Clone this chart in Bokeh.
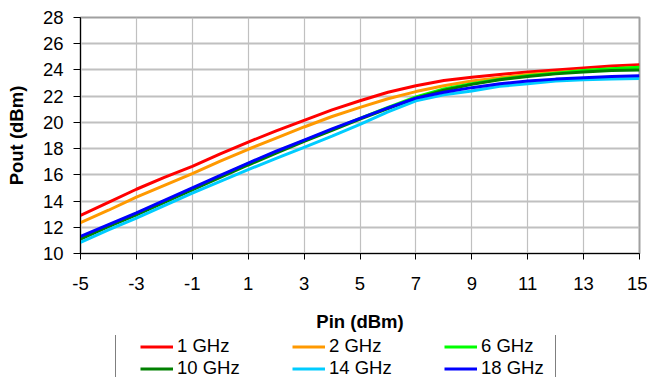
from bokeh.plotting import figure
from bokeh.models import Range1d, FixedTicker, Legend, LegendItem
from bokeh.layouts import column
from bokeh.embed import file_html
from bokeh.resources import INLINE

pin = [-5, -4, -3, -2, -1, 0, 1, 2, 3, 4, 5, 6, 7, 8, 9, 10, 11, 12, 13, 14, 15]
pout_1ghz = [12.9, 13.9, 14.9, 15.8, 16.65, 17.6, 18.5, 19.35, 20.15, 20.95, 21.65, 22.3, 22.8, 23.2, 23.45, 23.65, 23.85, 24.0, 24.15, 24.3, 24.4]
pout_2ghz = [12.35, 13.3, 14.3, 15.2, 16.1, 17.05, 17.95, 18.8, 19.65, 20.45, 21.15, 21.8, 22.35, 22.8, 23.15, 23.4, 23.65, 23.8, 23.95, 24.1, 24.2]
pout_6ghz = [11.2, 12.15, 13.05, 14.0, 14.95, 15.9, 16.85, 17.75, 18.6, 19.45, 20.3, 21.15, 21.95, 22.55, 22.95, 23.3, 23.55, 23.75, 23.95, 24.1, 24.2]
pout_10ghz = [11.1, 12.05, 12.95, 13.9, 14.85, 15.8, 16.75, 17.65, 18.55, 19.4, 20.25, 21.05, 21.85, 22.45, 22.9, 23.25, 23.5, 23.7, 23.85, 23.95, 24.0]
pout_14ghz = [10.85, 11.8, 12.7, 13.65, 14.6, 15.5, 16.4, 17.25, 18.1, 18.95, 19.85, 20.8, 21.65, 22.1, 22.4, 22.75, 22.95, 23.15, 23.25, 23.3, 23.35]
pout_18ghz = [11.3, 12.2, 13.1, 14.05, 15.0, 15.95, 16.9, 17.8, 18.65, 19.5, 20.3, 21.1, 21.85, 22.3, 22.65, 22.95, 23.15, 23.3, 23.4, 23.5, 23.55]

series_names = ["1 GHz", "2 GHz", "6 GHz", "10 GHz", "14 GHz", "18 GHz"]
series_values = [pout_1ghz, pout_2ghz, pout_6ghz, pout_10ghz, pout_14ghz, pout_18ghz]
series_colors = ["#ff0000", "#ff9900", "#00ff00", "#008000", "#00ccff", "#0000ff"]

x_ticks = [-5, -3, -1, 1, 3, 5, 7, 9, 11, 13, 15]
x_tick_labels = ["-5", "-3", "-1", "1", "3", "5", "7", "9", "11", "13", "15"]
y_ticks = [10, 12, 14, 16, 18, 20, 22, 24, 26, 28]

FONT = "Liberation Sans"
FS = "18.5px"
NAN = float("nan")

p = figure(width=647, height=335, output_backend="svg", toolbar_location=None,
           x_range=Range1d(-5, 15), y_range=Range1d(10, 28),
           min_border_left=80, min_border_right=8, min_border_top=17, min_border_bottom=82)

p.outline_line_color = "#a0a0a0"
p.outline_line_width = 2

p.xaxis.ticker = FixedTicker(ticks=x_ticks)
p.yaxis.ticker = FixedTicker(ticks=y_ticks)
p.xaxis.major_label_overrides = {t: s for t, s in zip(x_ticks, x_tick_labels)}
p.xgrid.ticker = FixedTicker(ticks=x_ticks)
p.ygrid.ticker = FixedTicker(ticks=y_ticks)
p.xgrid.grid_line_color = "#c0c0c0"
p.ygrid.grid_line_color = "#c0c0c0"
p.xgrid.grid_line_width = 1.2
p.ygrid.grid_line_width = 1.8

for ax in (p.xaxis[0], p.yaxis[0]):
    ax.axis_line_color = "black"
    ax.axis_line_width = 1
    ax.major_tick_line_color = "black"
    ax.minor_tick_line_color = None
    ax.major_tick_in = 0
    ax.major_label_text_font = FONT
    ax.major_label_text_font_size = FS
    ax.major_label_text_color = "black"
    ax.axis_label_text_font = FONT
    ax.axis_label_text_font_size = FS
    ax.axis_label_text_font_style = "bold"
    ax.axis_label_text_color = "black"

p.xaxis.major_tick_out = 6
p.yaxis.major_tick_out = 7
p.xaxis.major_label_standoff = 17
p.yaxis.major_label_standoff = 10
p.xaxis.axis_label = "Pin (dBm)"
p.yaxis.axis_label = "Pout (dBm)"
p.xaxis.axis_label_standoff = 18
p.yaxis.axis_label_standoff = 13

for name, vals, col in zip(series_names, series_values, series_colors):
    p.line(pin, vals, line_color=col, line_width=3)

# legend strip below the chart (its frame is aligned with the chart frame, left = 80)
lf = figure(width=647, height=42, output_backend="svg", toolbar_location=None,
            x_range=Range1d(0, 1), y_range=Range1d(0, 1),
            x_axis_location=None, y_axis_location=None,
            min_border_left=0, min_border_right=0, min_border_top=0, min_border_bottom=0)
lf.grid.visible = False
lf.outline_line_color = None
swatches = [lf.line(x=[NAN, NAN], y=[NAN, NAN], line_color=col, line_width=3) for col in series_colors]
frame_proxy = lf.line(x=[NAN, NAN], y=[NAN, NAN], line_alpha=0)

# border box of the legend
box = Legend(items=[LegendItem(label=" ", renderers=[frame_proxy])],
             location=(35, -19), margin=0, padding=0,
             glyph_width=0, glyph_height=60, label_standoff=0, label_width=439, label_height=60,
             label_text_font_size="1px",
             border_line_color="black", border_line_width=1, background_fill_alpha=0)
lf.add_layout(box, "center")

legend = Legend(items=[LegendItem(label=n, renderers=[r]) for n, r in zip(series_names, swatches)],
                orientation="horizontal", ncols=3,
                location=(60, -2), margin=0,
                glyph_width=33, glyph_height=19, label_standoff=4, label_width=115, label_height=19,
                spacing=-5, padding=0,
                label_text_font=FONT, label_text_font_size=FS, label_text_color="black",
                border_line_color=None, background_fill_alpha=0)
lf.add_layout(legend, "center")

layout = column(p, lf, spacing=0)
open("out.html", "w").write(file_html(layout, INLINE))
